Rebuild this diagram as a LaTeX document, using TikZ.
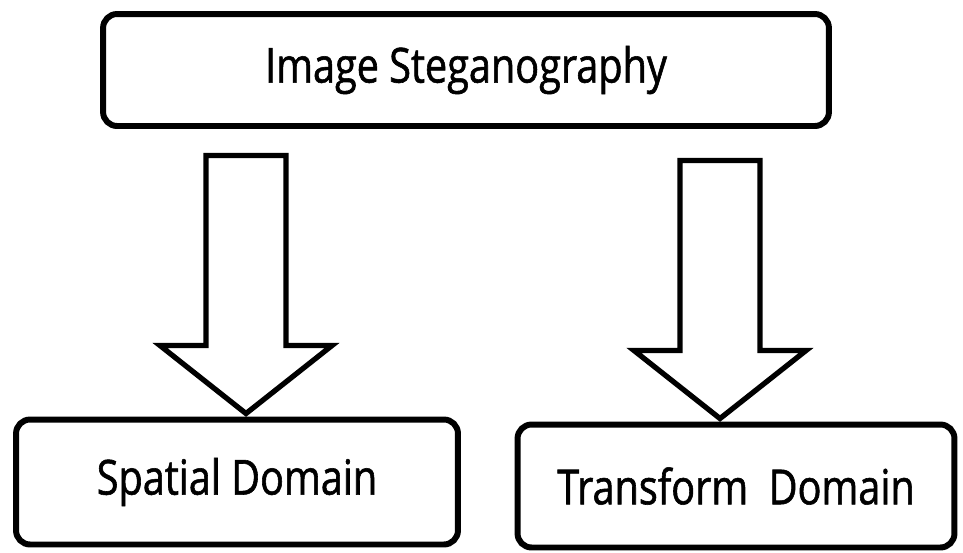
\documentclass[tikz,border=0pt]{standalone}
\usepackage{fontspec}
\setmainfont{Open Sans}[FakeStretch=0.82,FakeBold=1.2]
\usepackage{tikz}
\usetikzlibrary{calc}

\tikzset{
  box/.style={draw, line width=3.4pt, rounded corners=8pt, inner sep=0pt,
    font=\fontsize{27.5}{30}\selectfont},
  arrowline/.style={draw, line width=3pt, fill=white, line join=miter}
}
\newcommand{\blockarrow}[1]{%
  \draw[arrowline] (#1) -- ++(-86,-68) -- ++(46,0) -- ++(0,-190) -- ++(80,0)
    -- ++(0,190) -- ++(46,0) -- cycle;}

\begin{document}
\begin{tikzpicture}[x=0.02cm,y=-0.02cm]
\useasboundingbox (0,0) rectangle (963,552);
\node[box, minimum width=14.52cm, minimum height=2.24cm] (top) at (466,70) {Image Steganography};
\node[box, minimum width=8.84cm, minimum height=2.5cm] (spatial) at (237,482) {Spatial Domain};
\node[box, minimum width=8.74cm, minimum height=2.46cm] (transform) at (736,486) {Transform\ \ Domain};
% arrows down
\path (spatial.north) ++(9,-3) coordinate (ltip);
\path (transform.north) ++(-16,-3) coordinate (rtip);
\blockarrow{ltip}
\blockarrow{rtip}
\end{tikzpicture}
\end{document}
